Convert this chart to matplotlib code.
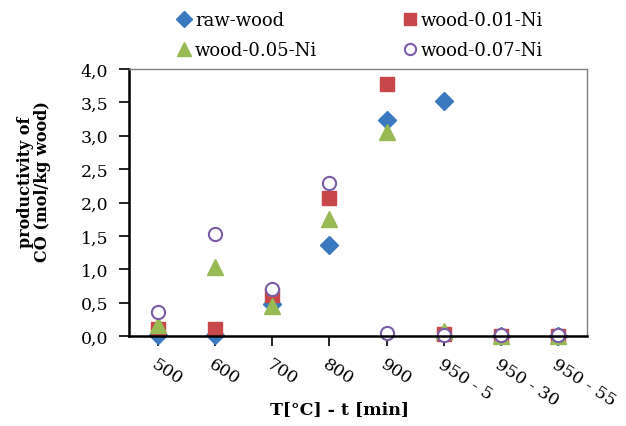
import matplotlib
matplotlib.use("Agg")
import matplotlib.pyplot as plt
import numpy as np

categories = ["500", "600", "700", "800", "900", "950 - 5", "950 - 30", "950 - 55"]
raw_wood = [0.02, 0.02, 0.48, 1.36, 3.24, 3.52, 0.0, 0.0]
wood_001 = [0.11, 0.10, 0.61, 2.06, 3.78, 0.03, 0.0, 0.0]
wood_005 = [0.17, 1.03, 0.45, 1.76, 3.05, 0.08, 0.0, 0.0]
wood_007 = [0.36, 1.53, 0.70, 2.29, 0.04, 0.01, 0.01, 0.01]
yticks = [0.0, 0.5, 1.0, 1.5, 2.0, 2.5, 3.0, 3.5, 4.0]

plt.rcParams['font.family'] = ['DejaVu Serif']

fig = plt.figure(figsize=(6.26, 4.27), dpi=100)
ax = fig.add_axes([129/626, 1-337/427, (587-129)/626, (337-70)/427])
x = np.arange(len(categories))

h1, = ax.plot(x, raw_wood, linestyle='none', marker='D', markersize=9, color='#3A78C0',
              markeredgecolor='#3A78C0', label='raw-wood', clip_on=False)
h2, = ax.plot(x, wood_001, linestyle='none', marker='s', markersize=10, color='#C8474A',
              markeredgecolor='#C8474A', label='wood-0.01-Ni', clip_on=False)
h3, = ax.plot(x, wood_005, linestyle='none', marker='^', markersize=11.5, color='#98BA54',
              markeredgecolor='#98BA54', label='wood-0.05-Ni', clip_on=False)
h4, = ax.plot(x, wood_007, linestyle='none', marker='o', markersize=9.5, markerfacecolor='white',
              markeredgecolor='#7A5CA8', markeredgewidth=1.5, label='wood-0.07-Ni', clip_on=False)

ax.set_xlim(-0.5, len(categories) - 0.5)
ax.set_ylim(0, 4.0)
ax.set_yticks(yticks)
ax.set_yticklabels([f"{v:.1f}".replace('.', ',') for v in yticks], fontsize=12.5)
ax.set_xticks(x)
ax.set_xticklabels(categories, fontsize=12.5, rotation=-33, ha='left', va='top',
                   rotation_mode='anchor')

ax.tick_params(axis='both', direction='out', length=7, width=1.2, color='black')
ax.tick_params(axis='y', pad=8)
ax.tick_params(axis='x', pad=7)
for s in ['left', 'bottom']:
    ax.spines[s].set_color('black')
    ax.spines[s].set_linewidth(1.8)
for s in ['top', 'right']:
    ax.spines[s].set_color('#808080')
    ax.spines[s].set_linewidth(1.0)

ax.set_xlabel("T[°C] - t [min]", fontsize=12.5, fontweight='bold')
ax.xaxis.set_label_coords((340-129)/458, -(410-337)/267)
ax.xaxis.label.set_va('center')
ax.set_ylabel("productivity of\nCO (mol/kg wood)", fontsize=11.5, fontweight='bold',
              linespacing=1.05)
ax.yaxis.set_label_coords((34-129)/458, (337-182)/267)
ax.yaxis.label.set_va('center')

fig.legend([h1, h3, h2, h4], ['raw-wood', 'wood-0.05-Ni', 'wood-0.01-Ni', 'wood-0.07-Ni'],
           ncol=2, frameon=False, fontsize=13, loc='center', bbox_to_anchor=(361/626, 1-36/427),
           handlelength=0.6, handletextpad=0.3, columnspacing=4.85, labelspacing=0.65,
           markerscale=0.85)

fig.savefig("out.png", dpi=100)
